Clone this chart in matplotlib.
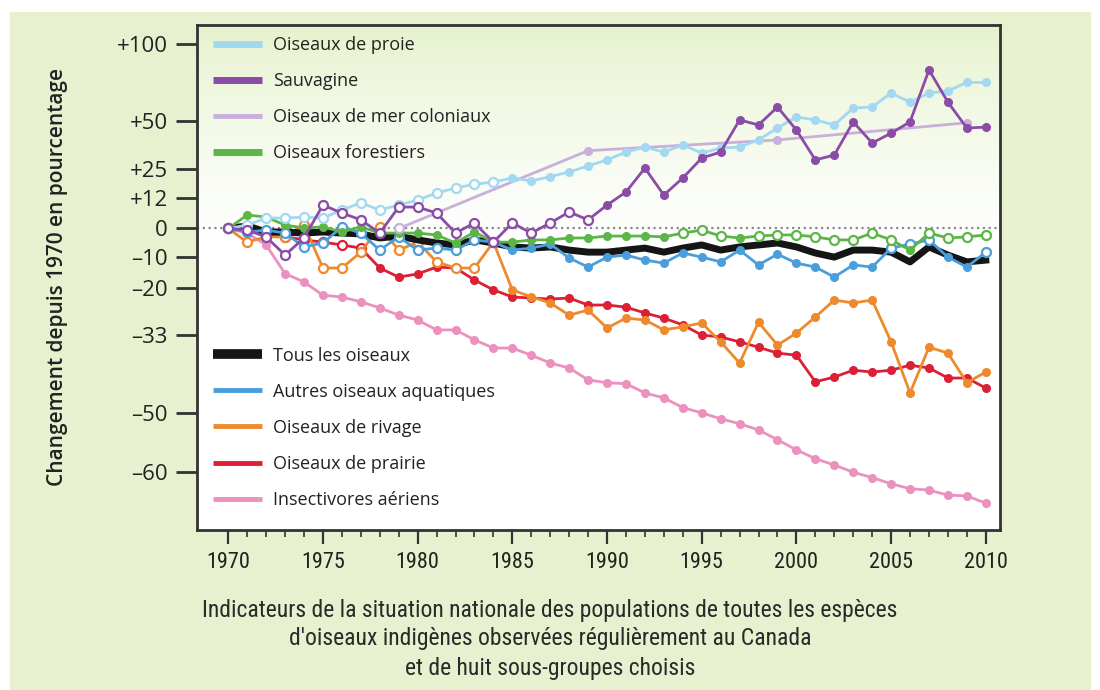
import numpy as np
import matplotlib.pyplot as plt
from matplotlib.lines import Line2D
from matplotlib.patches import Rectangle
from matplotlib import font_manager


def pick_font(names):
    avail = {f.name for f in font_manager.fontManager.ttflist}
    for n in names:
        if n in avail:
            return n
    return 'DejaVu Sans'


main_font = pick_font(['Open Sans', 'Lato', 'Noto Sans'])
narrow_font = pick_font(['Liberation Sans Narrow', 'Roboto Condensed', 'Liberation Sans'])
plt.rcParams['font.family'] = [main_font, 'DejaVu Sans']

# Data: change since 1970, in percent
years = list(range(1970, 2011))

proie = [0, 1.3, 4.0, 4.0, 4.4, 4.0, 7.2, 10.1, 7.2, 9.2, 11.3, 14.3, 16.4, 18.1, 19.1,
         20.9, 19.6, 21.5, 23.7, 26.5, 29.4, 33.3, 35.8, 33.3, 36.9, 32.8, 35.3, 35.8,
         39.5, 45.9, 52.1, 50.4, 47.6, 57.3, 57.9, 66.4, 60.8, 66.4, 67.7, 73.2, 73.2]
sauvagine = [0, -0.6, -3.1, -9.5, -3.5, 9.2, 6.0, 3.3, -1.7, 8.4, 8.4, 6.0, -1.7, 2.1, -5.0,
             2.1, -1.7, 2.1, 6.4, 3.3, 9.2, 14.7, 25.5, 13.4, 20.9, 30.3, 33.3, 50.4, 47.6,
             57.9, 44.8, 29.4, 31.8, 49.3, 37.9, 43.1, 49.3, 81.5, 60.8, 45.9, 46.4]
mer_years = [1979, 1989, 1999, 2009]
mer = [0, 34.0, 39.5, 48.8]
forestiers = [0, 5.2, 4.4, 1.3, 0.2, 0.6, -1.3, 0.6, -1.7, -1.7, -1.7, -2.4, -5.3, -1.3, -5.0,
              -5.0, -4.2, -4.2, -3.5, -3.5, -2.8, -2.8, -2.8, -3.1, -1.7, -0.6, -2.8, -3.5,
              -2.8, -2.4, -2.4, -3.1, -4.2, -4.2, -1.7, -4.2, -7.8, -1.7, -3.5, -3.1, -2.4]
tous = [0, 1.0, -1.3, -1.3, -1.7, -1.3, -1.7, -2.0, -3.5, -2.8, -4.2, -5.3, -6.0, -4.2, -5.3,
        -6.7, -7.1, -6.7, -7.8, -8.5, -8.5, -7.8, -7.1, -8.5, -7.1, -6.0, -7.8, -6.7, -6.0,
        -5.3, -6.7, -8.8, -10.2, -7.8, -7.8, -8.5, -11.8, -6.7, -9.5, -11.8, -11.2]
aquatiques = [0, -1.3, -0.6, -1.7, -6.7, -5.3, 0.6, -1.7, -7.8, -3.1, -7.8, -7.1, -7.8, -4.2,
              -5.0, -7.8, -7.1, -5.7, -10.5, -13.5, -10.2, -9.5, -11.2, -12.2, -8.8, -10.2,
              -11.8, -7.8, -12.8, -9.2, -12.2, -13.5, -16.7, -12.8, -13.5, -7.1, -5.7, -4.2,
              -10.2, -13.5, -8.5]
rivage = [0, -5.0, -3.1, -3.1, 1.3, -13.8, -13.8, -8.5, 0.6, -7.8, -5.0, -11.8, -13.8, -13.8,
          -5.0, -20.6, -22.7, -24.4, -27.8, -26.4, -31.2, -28.6, -29.1, -31.7, -30.9, -29.9,
          -34.7, -39.7, -29.7, -35.5, -32.5, -28.3, -23.6, -24.4, -23.6, -34.7, -46.1, -36.0,
          -37.4, -44.0, -41.7]
prairie = [0, 1.0, -2.0, -3.0, -4.2, -5.0, -6.0, -7.1, -13.8, -16.7, -15.7, -13.5, -13.8, -17.6,
           -20.6, -22.7, -23.0, -23.3, -23.0, -25.0, -25.0, -25.6, -27.2, -28.6, -30.4, -33.0,
           -33.5, -34.7, -36.0, -37.4, -37.9, -43.8, -42.8, -41.3, -41.7, -41.3, -40.2, -40.8,
           -43.0, -43.0, -45.1]
insectivores = [0, -1.7, -6.0, -15.6, -18.2, -22.2, -22.7, -24.1, -25.8, -27.8, -29.1, -31.7,
                -31.7, -34.2, -36.2, -36.2, -37.9, -39.7, -40.8, -43.4, -44.0, -44.2, -46.1,
                -47.1, -49.0, -50.0, -51.1, -52.0, -53.1, -54.8, -56.5, -57.9, -58.9, -60.0,
                -60.8, -61.7, -62.4, -62.6, -63.3, -63.4, -64.4]

# years drawn with hollow markers
open_proie = list(range(1970, 1985))
open_sauvagine = list(range(1970, 1990))
open_mer = [1979]
open_forestiers = [1970, 1994, 1995, 1996, 1998, 1999, 2000, 2001, 2002, 2003, 2004, 2005,
                   2007, 2008, 2009, 2010]
open_aquatiques = list(range(1970, 1985)) + [2005, 2006, 2007, 2010]
open_rivage = list(range(1970, 1985))
open_prairie = list(range(1970, 1978))
open_insectivores = [1970]

yticks = [100, 50, 25, 12, 0, -10, -20, -33, -50, -60]
ytick_labels = ['+100', '+50', '+25', '+12', '0', '–10', '–20', '–33', '–50', '–60']

c_proie = '#a3d8f2'
c_sauv = '#8a4ca6'
c_mer = '#c9afdc'
c_forest = '#5bb646'
c_tous = '#151515'
c_aqua = '#4a9edb'
c_rivage = '#ee8a2c'
c_prairie = '#db1f35'
c_insect = '#ec90bf'

fig = plt.figure(figsize=(11, 6.9), dpi=100)
fig.patch.set_facecolor('white')
fig.patches.append(Rectangle((10 / 1100, 0), 1080 / 1100, 1 - 12 / 690,
                             transform=fig.transFigure, color='#e8f1cf', zorder=-10))

ax = fig.add_axes([197 / 1100, 1 - 530 / 690, 803 / 1100, 505 / 690])

# background gradient of the plot area (green at the top, white lower down)
t = np.linspace(0, 1, 256)
fade = np.clip(t / 0.42, 0, 1)[:, None] ** 0.8
top_col = np.array([0.90, 0.95, 0.80])
img = (top_col * (1 - fade) + np.ones(3) * fade)[:, None, :]
ax.imshow(img[::-1], extent=[0, 1, 0, 1], transform=ax.transAxes, aspect='auto',
          origin='lower', zorder=0)


def fwd(p):
    return np.log(np.clip(1 + np.asarray(p, dtype=float) / 100, 1e-6, None))


def inv(v):
    return 100 * (np.exp(v) - 1)


ax.set_yscale('function', functions=(fwd, inv))


def draw(yrs, vals, color, hollow, z):
    ax.plot(yrs, vals, color=color, lw=2.0, zorder=z, solid_joinstyle='round')
    fx = [y for y in yrs if y not in hollow]
    fv = [v for y, v in zip(yrs, vals) if y not in hollow]
    hx = [y for y in yrs if y in hollow]
    hv = [v for y, v in zip(yrs, vals) if y in hollow]
    ax.plot(fx, fv, 'o', ms=5.5, color=color, zorder=z)
    ax.plot(hx, hv, 'o', ms=6.5, mfc='white', mec=color, mew=1.6, zorder=z)


ax.axhline(0, color='#8a8a8a', ls=(0, (1, 1.6)), lw=1.6, zorder=1)

draw(years, insectivores, c_insect, open_insectivores, 3)
draw(years, prairie, c_prairie, open_prairie, 4)
draw(years, rivage, c_rivage, open_rivage, 5)
draw(years, aquatiques, c_aqua, open_aquatiques, 6)
ax.plot(years, tous, color=c_tous, lw=5, zorder=5.5, solid_joinstyle='round')
draw(years, forestiers, c_forest, open_forestiers, 7)
draw(mer_years, mer, c_mer, open_mer, 8)
draw(years, proie, c_proie, open_proie, 9)
draw(years, sauvagine, c_sauv, open_sauvagine, 10)

ax.set_xlim(1968.35, 2010.75)
ax.set_ylim(inv((228.5 - 530) / 266), inv((228.5 - 25) / 266))

ax.set_yticks(yticks)
ax.set_yticklabels(ytick_labels)
ax.minorticks_off()
ax.set_xticks(range(1970, 2011, 5))
ax.set_xticks(range(1970, 2011), minor=True)
ax.tick_params(axis='y', length=15, width=2, color='#333333', pad=6, labelsize=16,
               labelcolor='#222222')
ax.tick_params(axis='x', which='major', length=10, width=1.6, color='#333333', pad=6,
               labelsize=16, labelcolor='#222222')
ax.tick_params(axis='x', which='minor', length=5, width=1.2, color='#333333')
for lab in ax.get_xticklabels():
    lab.set_family([narrow_font, 'DejaVu Sans'])
for lab in ax.get_yticklabels():
    lab.set_fontweight('medium')

for s in ax.spines.values():
    s.set_color('#333333')
    s.set_linewidth(2)

ax.set_ylabel('Changement depuis 1970 en pourcentage', fontsize=15, color='#222222',
              fontweight='semibold')
ax.yaxis.set_label_coords(-0.161, 0.5)


def handle(color, lw=5):
    return Line2D([], [], color=color, lw=lw, solid_capstyle='butt')


leg_kw = dict(frameon=False, fontsize=13, handlelength=2.7, handletextpad=0.6,
              labelspacing=1.0, borderpad=0, borderaxespad=0)
leg1 = ax.legend([handle(c_proie), handle(c_sauv), handle(c_mer, 3.5), handle(c_forest)],
                 ['Oiseaux de proie', 'Sauvagine', 'Oiseaux de mer coloniaux',
                  'Oiseaux forestiers'],
                 loc='upper left', bbox_to_anchor=(0.02, 0.978), **leg_kw)
for tx in leg1.get_texts():
    tx.set_color('#222222')
ax.add_artist(leg1)
leg2 = ax.legend([handle(c_tous, 7), handle(c_aqua, 3.5), handle(c_rivage, 3.5),
                  handle(c_prairie, 3.5), handle(c_insect, 3.5)],
                 ['Tous les oiseaux', 'Autres oiseaux aquatiques', 'Oiseaux de rivage',
                  'Oiseaux de prairie', 'Insectivores aériens'],
                 loc='upper left', bbox_to_anchor=(0.02, 0.363), **leg_kw)
for tx in leg2.get_texts():
    tx.set_color('#222222')

caption = ['Indicateurs de la situation nationale des populations de toutes les espèces',
           "d'oiseaux indigènes observées régulièrement au Canada",
           'et de huit sous-groupes choisis']
for i, line in enumerate(caption):
    fig.text(0.5, 1 - (610 + 29 * i) / 690, line, ha='center', va='center', fontsize=17,
             color='#2a2a2a', family=[narrow_font, 'DejaVu Sans'])

fig.savefig('out.png', dpi=100)
